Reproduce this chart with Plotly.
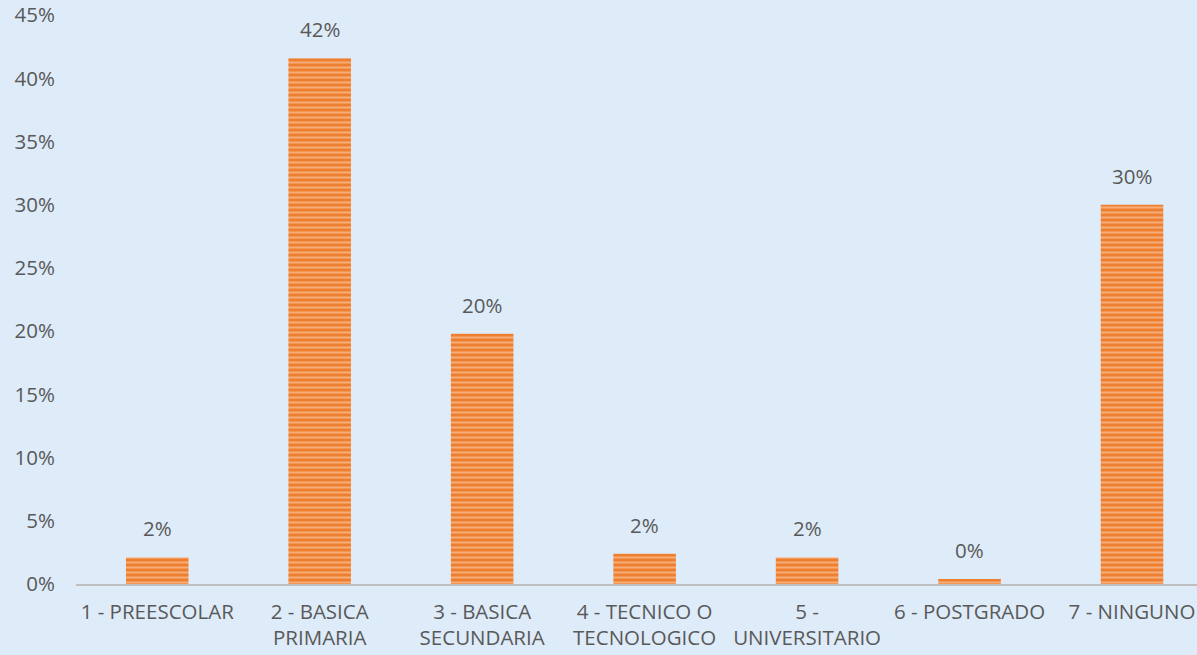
import plotly.graph_objects as go

categories = ["1 - PREESCOLAR", "2 - BASICA<br>PRIMARIA", "3 - BASICA<br>SECUNDARIA",
              "4 - TECNICO O<br>TECNOLOGICO", "5 -<br>UNIVERSITARIO", "6 - POSTGRADO", "7 - NINGUNO"]
values = [0.021, 0.416, 0.198, 0.024, 0.021, 0.004, 0.300]
tick_vals = [0, 0.05, 0.10, 0.15, 0.20, 0.25, 0.30, 0.35, 0.40, 0.45]
tick_text = ["0%", "5%", "10%", "15%", "20%", "25%", "30%", "35%", "40%", "45%"]

FONT = "Open Sans, Liberation Sans, sans-serif"
TXT = "#595959"
FS = 20.5

xs = list(range(len(categories)))

fig = go.Figure(go.Bar(
    x=xs,
    y=values,
    width=0.385,
    marker=dict(
        color="#F08A3E",
        line=dict(width=0),
        pattern=dict(shape="-", fgcolor="rgba(255,228,205,0.9)", bgcolor="#EE7F30",
                     size=5, solidity=0.4, fillmode="overlay"),
    ),
    cliponaxis=False,
    hoverinfo="skip",
))

for x, v in zip(xs, values):
    fig.add_annotation(x=x, y=v, text=f"{round(v*100):.0f}%", showarrow=False,
                       yanchor="bottom", yshift=13,
                       font=dict(family=FONT, size=FS, color=TXT))

fig.update_layout(
    width=1197, height=655,
    margin=dict(l=76, r=0, t=13, b=71),
    paper_bgcolor="#DEEBF8",
    plot_bgcolor="#DEEBF8",
    showlegend=False,
    font=dict(family=FONT, size=FS, color=TXT),
    xaxis=dict(
        tickmode="array", tickvals=xs, ticktext=categories,
        range=[-0.5, 6.4], showgrid=False, zeroline=False,
        showline=True, linecolor="#BFBFBF", linewidth=2, ticks="",
        ticklabelstandoff=8, ticklabeloverflow="allow",
        tickfont=dict(family=FONT, size=FS, color=TXT),
    ),
    yaxis=dict(
        range=[0, 0.4502], tickmode="array", tickvals=tick_vals, ticktext=tick_text,
        showgrid=False, zeroline=False, showline=False, ticks="",
        ticklabelstandoff=20, ticklabeloverflow="allow",
        tickfont=dict(family=FONT, size=FS, color=TXT),
    ),
)

fig.write_html("out.html", config={"displayModeBar": False},
               post_script="document.body.style.margin='0';document.body.style.overflow='hidden';")
